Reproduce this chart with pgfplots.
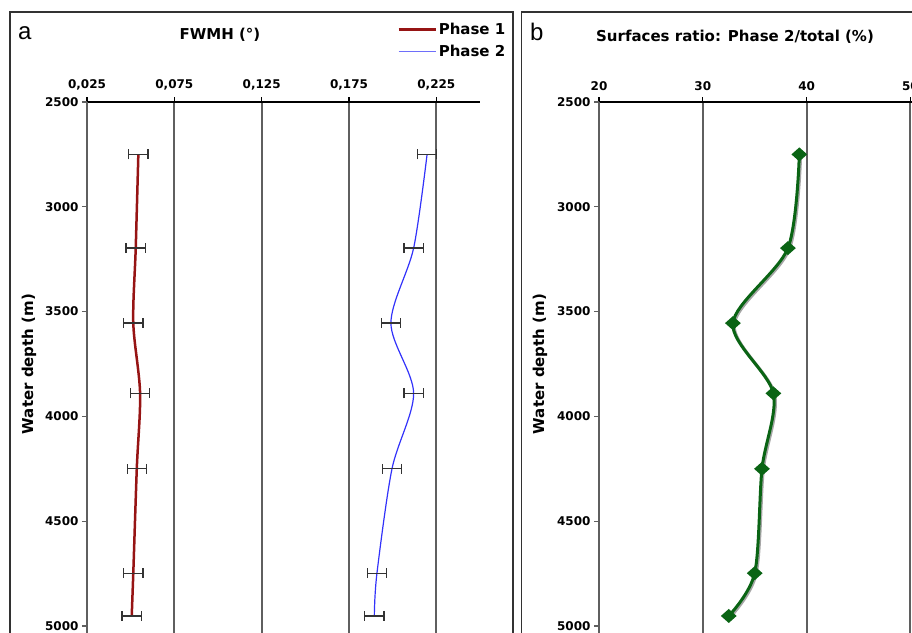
\documentclass[border=0pt]{standalone}
\usepackage{pgfplots}
\pgfplotsset{compat=1.18}
\usepackage{fontspec}
\setmainfont{DejaVu Sans}
\newfontfamily\letterfont{Liberation Sans}

\definecolor{phaseone}{RGB}{150,20,20}
\definecolor{phasetwo}{RGB}{50,50,250}
\definecolor{legendblue}{RGB}{110,110,250}
\definecolor{ratio}{RGB}{10,100,20}
\definecolor{gridgray}{RGB}{95,95,95}
\definecolor{framegray}{RGB}{50,50,50}

\pgfplotsset{
  depthaxis/.style={
    scale only axis,
    anchor=south west,
    height=532.4pt,
    y dir=reverse,
    ymin=2500, ymax=5040,
    ytick={2500,3000,3500,4000,4500,5000},
    axis x line=top,
    axis y line=left,
    x axis line style={black, line width=1.4pt, -},
    y axis line style={gridgray, line width=2pt, -},
    xmajorgrids,
    major grid style={gridgray, line width=2pt},
    tick align=outside,
    major tick length=5pt,
    xtick style={black, line width=1.2pt},
    ytick style={gridgray, line width=1.2pt},
    tick label style={font=\bfseries\fontsize{12}{14}\selectfont},
    /pgf/number format/assume math mode=true,
    yticklabel style={/pgf/number format/set thousands separator={}},
    xticklabel style={yshift=3pt},
    label style={font=\bfseries\fontsize{15}{18}\selectfont},
    ylabel={Water depth (m)},
    clip=false,
  },
  xbars/.style={
    error bars/.cd, x dir=both, x fixed=0.0055,
    error bar style={black!80, line width=1.3pt, solid},
    error mark options={rotate=90, mark size=5pt, black!80, line width=1.3pt},
  },
}

\begin{document}
\begin{tikzpicture}
\begin{scope}
\clip (0pt,0pt) rectangle (912pt,632pt);
% panel frames
\draw[framegray, line width=1.5pt] (10pt,-5pt) rectangle (513pt,620pt);
\draw[framegray, line width=1.5pt] (521.7pt,-5pt) rectangle (930pt,620pt);
\draw[framegray, line width=1.5pt] (10pt,620pt) -- (513pt,620pt);
\draw[framegray, line width=1.5pt] (521.7pt,620pt) -- (912pt,620pt);
\node[anchor=base west, inner sep=0pt, font=\letterfont\fontsize{24}{24}\selectfont] at (18pt,592pt) {a};
\node[anchor=base west, inner sep=0pt, font=\letterfont\fontsize{24}{24}\selectfont] at (530pt,591pt) {b};
\node[font=\bfseries\fontsize{15}{18}\selectfont] at (220pt,597pt) {FWMH (°)};
\node[font=\bfseries\fontsize{15}{18}\selectfont] at (735pt,595pt) {Surfaces ratio: Phase 2/total (\%)};

% panel a
\begin{axis}[depthaxis,
  at={(87pt,-2.4pt)}, width=393pt,
  xmin=0.025, xmax=0.25,
  xtick={0.025,0.075,0.125,0.175,0.225},
  xticklabel style={/pgf/number format/.cd, fixed, fixed zerofill, precision=3, use comma},
  ylabel style={at={(axis description cs:-0.1476,0.508)}, anchor=center},
  legend style={at={(axis description cs:1.07,1.152)}, anchor=north east,
    draw=none, fill=none, inner sep=0pt, row sep=5pt,
    font=\bfseries\fontsize{15}{18}\selectfont},
  legend image code/.code={\draw[#1] (0pt,0pt) -- (37pt,0pt);},
]
\addlegendimage{draw=phaseone, line width=2.5pt}
\addlegendentry{Phase 1}
\addlegendimage{draw=legendblue, line width=1.6pt}
\addlegendentry{Phase 2}
\addplot[phaseone, line width=2.5pt, smooth, forget plot, xbars] table {
x y
0.0544 2750
0.0529 3197
0.0515 3555
0.0554 3890
0.0535 4250
0.0515 4748
0.0506 4952
};
\addplot[phasetwo, line width=1.2pt, smooth, forget plot, xbars] table {
x y
0.2197 2750
0.2120 3197
0.1990 3555
0.2120 3890
0.1996 4250
0.1910 4748
0.1895 4952
};
\end{axis}

% panel b
\begin{axis}[depthaxis,
  at={(599pt,-2.4pt)}, width=415.2pt,
  xmin=20, xmax=60,
  xtick={20,30,40,50,60},
  ylabel style={at={(axis description cs:-0.142,0.508)}, anchor=center},
]
\addplot[black!35, line width=3.2pt, smooth, xshift=1.2pt, yshift=-1.2pt, forget plot] table {
x y
39.3 2750
38.2 3197
32.9 3555
36.8 3890
35.7 4250
35.0 4748
32.5 4952
};
\addplot[ratio, line width=3pt, smooth, mark=diamond*, mark size=5pt,
  mark options={xscale=1.5, solid}] table {
x y
39.3 2750
38.2 3197
32.9 3555
36.8 3890
35.7 4250
35.0 4748
32.5 4952
};
\end{axis}
\end{scope}
\pgfresetboundingbox
\useasboundingbox (0pt,0pt) rectangle (912pt,632pt);
\end{tikzpicture}
\end{document}
